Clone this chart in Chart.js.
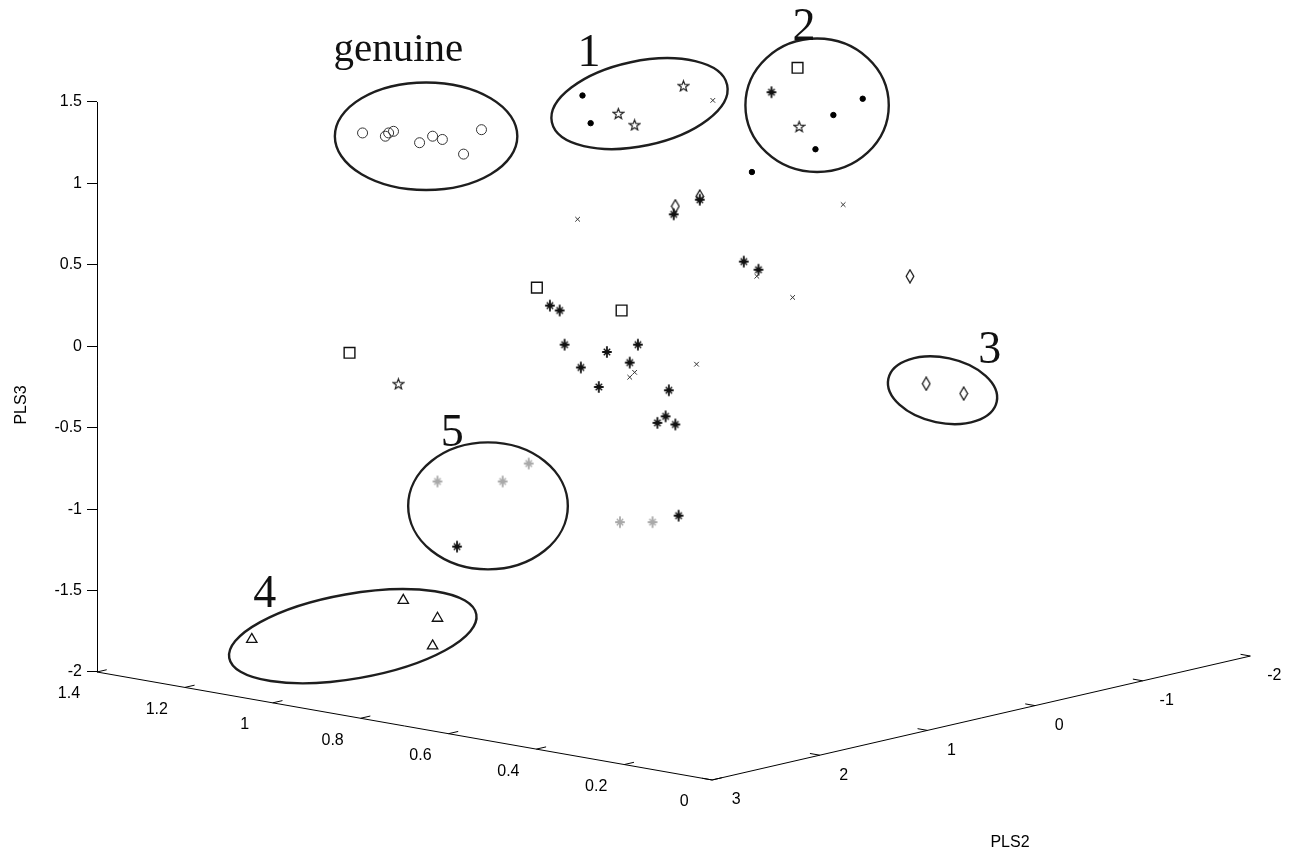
<!DOCTYPE html>
<html><head><meta charset="utf-8">
<script src="https://cdn.jsdelivr.net/npm/chart.js@4/dist/chart.umd.min.js"></script>
<style>html,body{margin:0;padding:0;background:#fff}#wrap{width:1308px;height:865px}</style>
</head><body><div id="wrap"><canvas id="c" width="1308" height="865"></canvas></div>
<script>
// Marker positions as seen in the 3-D view: h = horizontal position, v = reading on the PLS3 axis (same units)
const circleH   = [1.63, 1.77, 1.79, 1.82, 1.98, 2.06, 2.12, 2.25, 2.36];
const circleV   = [1.31, 1.29, 1.31, 1.32, 1.25, 1.29, 1.27, 1.18, 1.33];
const dotH      = [2.98, 3.03, 4.70, 4.52, 4.41, 4.02];
const dotV      = [1.54, 1.37, 1.52, 1.42, 1.21, 1.07];
const pentaH    = [3.20, 3.30, 3.60, 4.31, 1.85];
const pentaV    = [1.43, 1.36, 1.60, 1.35, -0.23];
const crossH    = [3.78, 2.95, 4.58, 4.05, 4.27, 3.30, 3.27, 3.68];
const crossV    = [1.51, 0.78, 0.87, 0.43, 0.30, -0.16, -0.19, -0.11];
const squareH   = [4.30, 2.70, 3.22, 1.55];
const squareV   = [1.71, 0.36, 0.22, -0.04];
const asteriskH = [4.14, 3.54, 3.70, 3.97, 4.06, 2.78, 2.84, 2.87, 3.13, 3.32, 2.97, 3.27, 3.08, 3.51, 3.44, 3.49, 3.55, 2.21, 3.57];
const asteriskV = [1.56, 0.81, 0.90, 0.52, 0.47, 0.25, 0.22, 0.01, -0.035, 0.01, -0.13, -0.10, -0.25, -0.27, -0.47, -0.43, -0.48, -1.23, -1.04];
const grayH     = [2.09, 2.49, 2.65, 3.21, 3.41];
const grayV     = [-0.83, -0.83, -0.72, -1.08, -1.08];
const diamondH  = [3.55, 3.70, 4.99, 5.09, 5.32];
const diamondV  = [0.86, 0.92, 0.43, -0.23, -0.29];
const triangleH = [0.95, 1.88, 2.09, 2.06];
const triangleV = [-1.80, -1.56, -1.67, -1.84];

// Group ellipses (centre, semi-axes in the same units, tilt in degrees)
const groupLabels = ['genuine', '1', '2', '3', '4', '5'];
const ellipseH    = [2.02, 3.33, 4.42, 5.19, 1.57, 2.40];
const ellipseV    = [1.29, 1.49, 1.48, -0.27, -1.78, -0.98];
const ellipseA    = [0.56, 0.55, 0.44, 0.34, 0.77, 0.49];
const ellipseB    = [0.33, 0.26, 0.41, 0.20, 0.26, 0.39];
const ellipseTilt = [0, -12, 0, 12, -10, 0];
const labelH      = [1.85, 3.02, 4.34, 5.48, 1.03, 2.18];
const labelV      = [1.75, 1.72, 1.88, -0.10, -1.60, -0.61];

// Axis ticks
const pls3Ticks = [-2, -1.5, -1, -0.5, 0, 0.5, 1, 1.5];
const pls1Ticks = [1.4, 1.2, 1, 0.8, 0.6, 0.4, 0.2, 0];
const pls2Ticks = [3, 2, 1, 0, -1, -2];
const pls1Range = [0, 1.4];
const pls2Range = [-2, 3];
const pls3Range = [-2, 1.5];

// View projection (PLS1, PLS2, PLS3) -> (h, v)
const view = { origin: [5.758, -0.2064], e1: [-2.697, 0.4736], e2: [-0.6608, -0.1522] };
function proj(p1, p2, p3) {
  return [view.origin[0] + p1 * view.e1[0] + p2 * view.e2[0],
          view.origin[1] + p1 * view.e1[1] + p2 * view.e2[1] + p3];
}

function makePentagram(size, color) {
  const c = document.createElement('canvas'); c.width = c.height = size;
  const g = c.getContext('2d'); const cx = size / 2, cy = size / 2 + 0.6, R = size / 2 - 1, r = R * 0.42;
  g.beginPath();
  for (let i = 0; i < 10; i++) {
    const a = -Math.PI / 2 + i * Math.PI / 5, rr = i % 2 ? r : R;
    g.lineTo(cx + rr * Math.cos(a), cy + rr * Math.sin(a));
  }
  g.closePath(); g.strokeStyle = color; g.lineWidth = 1.2; g.stroke();
  return c;
}
function makeDiamond(w, h, color) {
  const c = document.createElement('canvas'); c.width = w; c.height = h;
  const g = c.getContext('2d');
  g.beginPath(); g.moveTo(w / 2, 1); g.lineTo(w - 1.2, h / 2); g.lineTo(w / 2, h - 1); g.lineTo(1.2, h / 2); g.closePath();
  g.strokeStyle = color; g.lineWidth = 1.3; g.stroke();
  return c;
}
function makeAsterisk(size, color) {
  const c = document.createElement('canvas'); c.width = c.height = size;
  const g = c.getContext('2d'); const m = size / 2;
  g.strokeStyle = color; g.lineCap = 'butt';
  g.lineWidth = 1.8;
  g.beginPath();
  g.moveTo(m, m - 5.8); g.lineTo(m, m + 5.8);
  g.moveTo(m - 4.8, m); g.lineTo(m + 4.8, m);
  g.stroke();
  g.lineWidth = 1.4;
  g.beginPath();
  g.moveTo(m - 3.2, m - 3.2); g.lineTo(m + 3.2, m + 3.2);
  g.moveTo(m - 3.2, m + 3.2); g.lineTo(m + 3.2, m - 3.2);
  g.stroke();
  g.fillStyle = color; g.beginPath(); g.arc(m, m, 1.9, 0, Math.PI * 2); g.fill();
  return c;
}

const pts = (H, V) => H.map((h, i) => ({ x: h, y: V[i] }));
const ds = (label, H, V, style, radius, color, bw, fill) => ({
  label, data: pts(H, V), pointStyle: style, pointRadius: radius, pointHoverRadius: radius,
  borderColor: color, backgroundColor: fill || 'rgba(0,0,0,0)', borderWidth: bw, pointBorderWidth: bw, clip: false
});

const overlay = {
  id: 'overlay',
  afterDatasetsDraw(chart) {
    const { ctx, scales: { x, y } } = chart;
    const P = (h, v) => [x.getPixelForValue(h), y.getPixelForValue(v)];
    const kx = x.getPixelForValue(1) - x.getPixelForValue(0);
    const ky = y.getPixelForValue(0) - y.getPixelForValue(1);
    ctx.save();
    // ellipses
    ctx.strokeStyle = '#1e1e1e'; ctx.lineWidth = 2.4;
    for (let i = 0; i < ellipseH.length; i++) {
      const [cx, cy] = P(ellipseH[i], ellipseV[i]);
      ctx.beginPath();
      ctx.ellipse(cx, cy, ellipseA[i] * kx, ellipseB[i] * ky, ellipseTilt[i] * Math.PI / 180, 0, Math.PI * 2);
      ctx.stroke();
    }
    // group labels
    ctx.fillStyle = '#111'; ctx.textAlign = 'center'; ctx.textBaseline = 'alphabetic';
    for (let i = 0; i < groupLabels.length; i++) {
      ctx.font = (i === 0 ? '41px' : '46px') + ' "Liberation Serif", "Times New Roman", serif';
      const [tx, ty] = P(labelH[i], labelV[i]);
      ctx.fillText(groupLabels[i], tx, ty);
    }
    // vertical PLS3 axis line
    ctx.strokeStyle = '#000'; ctx.lineWidth = 1;
    const zTop = P(...proj(pls1Range[1], pls2Range[1], pls3Range[1]));
    const A = P(...proj(pls1Range[1], pls2Range[1], pls3Range[0]));
    const B = P(...proj(pls1Range[0], pls2Range[1], pls3Range[0]));
    const C = P(...proj(pls1Range[0], pls2Range[0], pls3Range[0]));
    const ax = Math.round(A[0]) + 0.5;
    ctx.beginPath(); ctx.moveTo(ax, zTop[1]); ctx.lineTo(ax, A[1]); ctx.stroke();
    // floor axes
    ctx.beginPath(); ctx.moveTo(A[0], A[1]); ctx.lineTo(B[0], B[1]); ctx.lineTo(C[0], C[1]); ctx.stroke();
    const unit = (p, q) => { const dx = q[0] - p[0], dy = q[1] - p[1], l = Math.hypot(dx, dy); return [dx / l, dy / l]; };
    const d1 = unit(B, C);   // PLS1 ticks point along the PLS2 direction
    const d2 = unit(B, A);   // PLS2 ticks point along the PLS1 direction
    ctx.font = '16px "Liberation Sans", Arial, sans-serif'; ctx.fillStyle = '#000';
    ctx.textAlign = 'center'; ctx.textBaseline = 'middle';
    pls1Ticks.forEach(t => {
      const p = P(...proj(t, pls2Range[1], pls3Range[0]));
      ctx.beginPath(); ctx.moveTo(p[0], p[1]); ctx.lineTo(p[0] + d1[0] * 10, p[1] + d1[1] * 10); ctx.stroke();
      ctx.fillText(String(t), p[0] - 28, p[1] + 22);
    });
    pls2Ticks.forEach(t => {
      const p = P(...proj(pls1Range[0], t, pls3Range[0]));
      ctx.beginPath(); ctx.moveTo(p[0], p[1]); ctx.lineTo(p[0] + d2[0] * 10, p[1] + d2[1] * 10); ctx.stroke();
      ctx.fillText(String(t), p[0] + 24, p[1] + 20);
    });
    // axis titles
    ctx.fillText('PLS2', 1010, 843);
    ctx.translate(22, 405); ctx.rotate(-Math.PI / 2); ctx.fillText('PLS3', 0, 0);
    ctx.restore();
  }
};

new Chart(document.getElementById('c'), {
  type: 'scatter',
  data: {
    datasets: [
      ds('genuine', circleH, circleV, 'circle', 5, '#333', 1),
      ds('dot', dotH, dotV, 'circle', 2.7, '#000', 1, '#000'),
      ds('pentagram', pentaH, pentaV, makePentagram(13, '#222'), 6, '#222', 1),
      ds('x', crossH, crossV, 'crossRot', 3.3, '#333', 1),
      ds('square', squareH, squareV, 'rect', 7.6, '#111', 1.4),
      ds('asterisk', asteriskH, asteriskV, makeAsterisk(14, '#111'), 6, '#111', 1),
      ds('gray', grayH, grayV, makeAsterisk(14, '#a9a9a9'), 6, '#a9a9a9', 1),
      ds('diamond', diamondH, diamondV, makeDiamond(10, 15, '#1a1a1a'), 6, '#1a1a1a', 1),
      ds('triangle', triangleH, triangleV, 'triangle', 6, '#111', 1.3)
    ]
  },
  options: {
    responsive: false, animation: false, events: [], devicePixelRatio: 1,
    layout: { padding: { top: 20.571, bottom: 79, left: 0, right: 38 } },
    plugins: { legend: { display: false }, tooltip: { enabled: false } },
    scales: {
      x: { type: 'linear', display: false, min: 0, max: 7.2 },
      y: {
        type: 'linear', min: -2.7, max: 2.0,
        afterBuildTicks: s => { s.ticks = pls3Ticks.map(v => ({ value: v })); },
        afterFit: s => { s.width = 97; },
        grid: { display: true, drawOnChartArea: false, drawTicks: true, tickLength: 10, color: '#000' },
        border: { display: false },
        ticks: { color: '#000', padding: 5, callback: v => String(v),
                 font: { family: '"Liberation Sans", Arial, sans-serif', size: 16 } },
        title: { display: false }
      }
    }
  },
  plugins: [overlay]
});
</script></body></html>
